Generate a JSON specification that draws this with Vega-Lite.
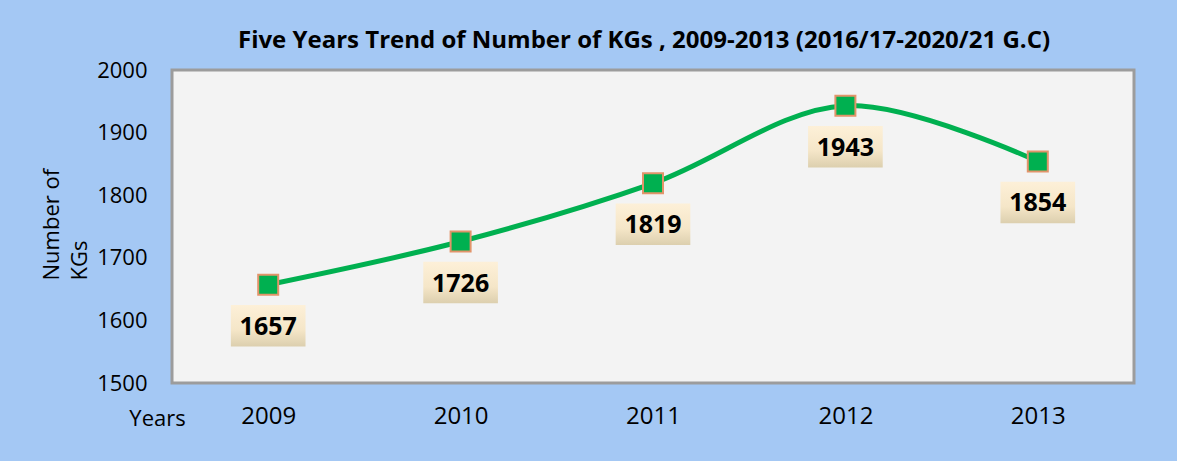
{
  "$schema": "https://vega.github.io/schema/vega-lite/v6.json",
  "width": 962,
  "height": 313,
  "autosize": {"type": "none"},
  "padding": {"left": 172, "top": 70, "right": 43, "bottom": 78},
  "background": "#a4c8f4",
  "title": {
    "text": "Five Years Trend of Number of KGs , 2009-2013 (2016/17-2020/21 G.C)",
    "font": "Open Sans",
    "fontSize": 24,
    "fontWeight": "bold",
    "color": "#000000",
    "anchor": "middle",
    "dx": -9,
    "offset": 6
  },
  "data": {
    "values": [
      {"year": "2009", "kgs": 1657},
      {"year": "2010", "kgs": 1726},
      {"year": "2011", "kgs": 1819},
      {"year": "2012", "kgs": 1943},
      {"year": "2013", "kgs": 1854}
    ]
  },
  "encoding": {
    "x": {
      "field": "year",
      "type": "ordinal",
      "scale": {"type": "point", "padding": 0.5},
      "axis": {
        "title": "Years",
        "titleX": -15,
        "titleY": 35,
        "titleAlign": "center",
        "titleBaseline": "middle",
        "titleFont": "Open Sans",
        "titleFontSize": 22,
        "titleFontWeight": "normal",
        "titleColor": "#000000",
        "labelAngle": 0,
        "labelFont": "Open Sans",
        "labelFontSize": 24,
        "labelColor": "#000000",
        "labelPadding": 21,
        "ticks": false,
        "domain": false,
        "grid": false
      }
    },
    "y": {
      "field": "kgs",
      "type": "quantitative",
      "scale": {"domain": [1500, 2000], "nice": false, "zero": false},
      "axis": {
        "title": ["Number of", "KGs"],
        "titleAngle": -90,
        "titleX": -121,
        "titleY": 210,
        "titleAlign": "left",
        "titleBaseline": "middle",
        "titleFont": "Open Sans",
        "titleFontSize": 22,
        "titleFontWeight": "normal",
        "titleColor": "#000000",
        "titleLineHeight": 28,
        "values": [1500, 1600, 1700, 1800, 1900, 2000],
        "format": "d",
        "labelFont": "Open Sans",
        "labelFontSize": 22,
        "labelColor": "#000000",
        "labelPadding": 25,
        "ticks": false,
        "domain": false,
        "grid": false
      }
    }
  },
  "layer": [
    {
      "mark": {"type": "line", "interpolate": "catmull-rom", "stroke": "#00b050", "strokeWidth": 5}
    },
    {
      "mark": {"type": "point", "shape": "square", "size": 400, "filled": true, "fill": "#00b050", "stroke": "#e2946a", "strokeWidth": 2, "opacity": 1}
    },
    {
      "mark": {
        "type": "point",
        "shape": "M-1.8,-1H1.8V1H-1.8Z",
        "size": 1720,
        "filled": true,
        "opacity": 1,
        "strokeWidth": 0,
        "yOffset": 41,
        "fill": {
          "gradient": "linear",
          "x1": 0, "y1": 0, "x2": 0, "y2": 1,
          "stops": [
            {"offset": 0, "color": "#fdf0d8"},
            {"offset": 0.6, "color": "#f5e6c8"},
            {"offset": 1, "color": "#dccfae"}
          ]
        }
      }
    },
    {
      "mark": {"type": "text", "font": "Open Sans", "fontSize": 25, "fontWeight": "bold", "color": "#000000", "baseline": "middle", "yOffset": 42},
      "encoding": {"text": {"field": "kgs", "type": "quantitative"}}
    }
  ],
  "config": {
    "view": {"fill": "#f3f3f3", "stroke": "#9c9c9c", "strokeWidth": 3}
  }
}
